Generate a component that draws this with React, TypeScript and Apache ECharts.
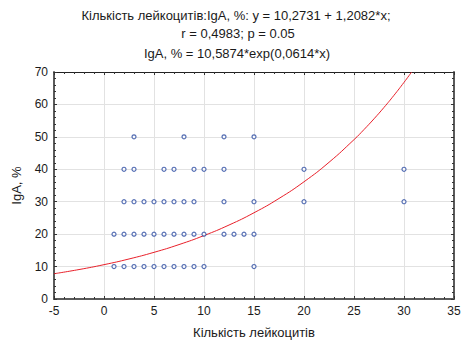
import React, { useEffect, useRef } from "react";
import * as echarts from "echarts";

// Observed data: leukocyte count (x) and IgA, % (y)
const leukocytes: number[] = [
  3, 8, 12, 15,
  2, 3, 6, 7, 9, 10, 12, 20, 30,
  2, 3, 4, 5, 6, 7, 8, 9, 12, 15, 20, 30,
  1, 2, 3, 4, 5, 6, 7, 8, 9, 10, 12, 13, 14, 15,
  1, 2, 3, 4, 5, 6, 7, 8, 9, 10, 15,
];
const igaPercent: number[] = [
  50, 50, 50, 50,
  40, 40, 40, 40, 40, 40, 40, 40, 40,
  30, 30, 30, 30, 30, 30, 30, 30, 30, 30, 30, 30,
  20, 20, 20, 20, 20, 20, 20, 20, 20, 20, 20, 20, 20, 20,
  10, 10, 10, 10, 10, 10, 10, 10, 10, 10, 10,
];

// Fitted curve coefficients (from the chart title)
const fitA = 10.5874;
const fitB = 0.0614;
const curveXs: number[] = [-5, -2.5, 0, 2.5, 5, 7.5, 10, 12.5, 15, 17.5, 20, 22.5, 25, 26, 27, 28, 29, 30, 30.5, 30.76];

const titleLines: string[] = [
  "Кількість лейкоцитів:IgA, %: y = 10,2731 + 1,2082*x;",
  "r = 0,4983; p = 0.05",
  "IgA, % = 10,5874*exp(0,0614*x)",
];

export default function App() {
  const ref = useRef<HTMLDivElement>(null);
  useEffect(() => {
    if (!ref.current) return;
    const chart = echarts.init(ref.current, undefined, { renderer: "svg" });
    const points = leukocytes.map((x, i) => [x, igaPercent[i]]);
    const curve = curveXs.map((x) => [x, fitA * Math.exp(fitB * x)]);
    const font = "'Liberation Sans', Arial, sans-serif";
    const axisLabel = { color: "#1a1a1a", fontSize: 12, fontFamily: font };
    chart.setOption({
      animation: false,
      textStyle: { fontFamily: font },
      graphic: [
        { type: "text", x: 236, y: 9, style: { text: titleLines[0], font: `13px ${font}`, fill: "#1a1a1a", textAlign: "center" } },
        { type: "text", x: 238, y: 27, style: { text: titleLines[1], font: `13px ${font}`, fill: "#1a1a1a", textAlign: "center" } },
        { type: "text", x: 237, y: 47, style: { text: titleLines[2], font: `13px ${font}`, fill: "#1a1a1a", textAlign: "center" } },
      ],
      grid: { left: 54, right: 11, top: 72, bottom: 43, containLabel: false, outerBoundsMode: "none" },
      xAxis: [
        {
          type: "value", min: -5, max: 35, interval: 5,
          name: "Кількість лейкоцитів", nameLocation: "middle", nameGap: 27,
          nameTextStyle: { color: "#1a1a1a", fontSize: 13, fontFamily: font },
          axisLine: { show: true, onZero: false, lineStyle: { color: "#5a5a5a", width: 2 } },
          axisTick: { show: true, inside: true, length: 3, lineStyle: { color: "#333" } },
          minorTick: { show: true, splitNumber: 5, length: 2, lineStyle: { color: "#333" } },
          axisLabel: { ...axisLabel, margin: 6 },
          splitLine: { show: true, lineStyle: { color: "#e2e2e2", width: 1 } },
        },
        {
          type: "value", min: -5, max: 35, interval: 5, position: "top",
          axisLine: { show: true, onZero: false, lineStyle: { color: "#222", width: 1 } },
          axisTick: { show: true, inside: true, length: 3, lineStyle: { color: "#333" } },
          minorTick: { show: true, splitNumber: 5, length: 2, lineStyle: { color: "#333" } },
          axisLabel: { show: false },
          splitLine: { show: false },
        },
      ],
      yAxis: [
        {
          type: "value", min: 0, max: 70, interval: 10,
          name: "IgA, %", nameLocation: "middle", nameGap: 31, nameRotate: 90,
          nameTextStyle: { color: "#1a1a1a", fontSize: 13, fontFamily: font },
          axisLine: { show: true, onZero: false, lineStyle: { color: "#5a5a5a", width: 2 } },
          axisTick: { show: true, inside: true, length: 3, lineStyle: { color: "#333" } },
          minorTick: { show: true, splitNumber: 5, length: 2, lineStyle: { color: "#333" } },
          axisLabel: { ...axisLabel, margin: 6 },
          splitLine: { show: true, lineStyle: { color: "#e2e2e2", width: 1 } },
        },
        {
          type: "value", min: 0, max: 70, interval: 10, position: "right",
          axisLine: { show: true, onZero: false, lineStyle: { color: "#5a5a5a", width: 2 } },
          axisTick: { show: true, inside: true, length: 3, lineStyle: { color: "#333" } },
          minorTick: { show: true, splitNumber: 5, length: 2, lineStyle: { color: "#333" } },
          axisLabel: { show: false },
          splitLine: { show: false },
        },
      ],
      series: [
        {
          type: "line", data: curve, smooth: true, showSymbol: false,
          lineStyle: { color: "#e8202a", width: 1 }, z: 2,
        },
        {
          type: "scatter", data: points, symbol: "circle", symbolSize: 4,
          itemStyle: { color: "#ffffff", borderColor: "#2a4aa0", borderWidth: 1.2 }, z: 3,
        },
      ],
    });
    return () => chart.dispose();
  }, []);
  return <div ref={ref} style={{ width: 465, height: 342, position: "absolute", left: 0, top: 0 }} />;
}
